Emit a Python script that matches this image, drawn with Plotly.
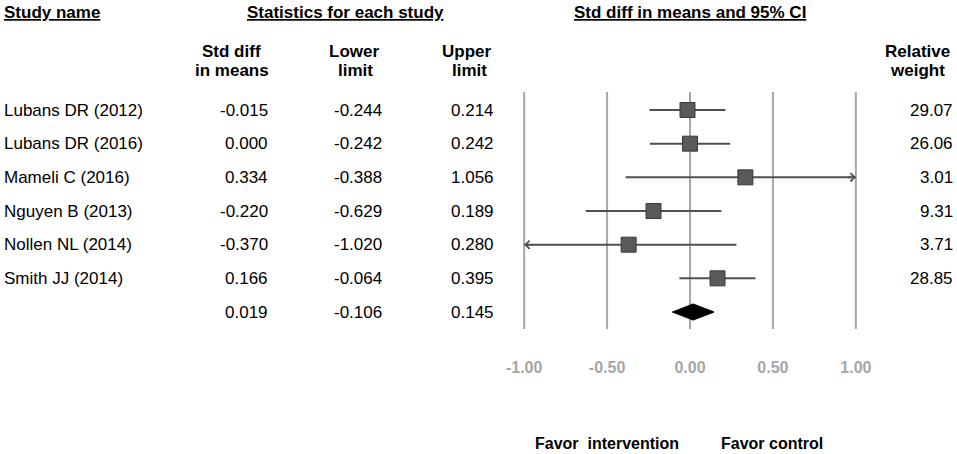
import plotly.graph_objects as go

studies = ["Lubans DR (2012)", "Lubans DR (2016)", "Mameli C (2016)",
           "Nguyen B (2013)", "Nollen NL (2014)", "Smith JJ (2014)"]
smd = [-0.015, 0.000, 0.334, -0.220, -0.370, 0.166]
lower = [-0.244, -0.242, -0.388, -0.629, -1.020, -0.064]
upper = [0.214, 0.242, 1.056, 0.189, 0.280, 0.395]
weights = [29.07, 26.06, 3.01, 9.31, 3.71, 28.85]
summary_smd = 0.019
summary_lower = -0.106
summary_upper = 0.145
tickvals = [-1.0, -0.5, 0.0, 0.5, 1.0]
ticktext = [f"{v:.2f}" for v in tickvals]

W, H = 957, 454
PLOT_H = 345
FONT = "Liberation Sans, Arial, sans-serif"
XMIN, XMAX = -1.0, 1.0

# axis mapping: x=0 at px 690, 165.85 px per unit
PX0, SCALE = 690.0, 165.85
x_range = [-PX0 / SCALE, (W - PX0) / SCALE]
ROW0, ROWH = 110.0, 33.67
y_range = [(PLOT_H - ROW0) / ROWH, -ROW0 / ROWH]

def xp(px):
    return px / W

def yp(py):
    return 1 - py / PLOT_H

def yrow(py):
    return (py - ROW0) / ROWH

fig = go.Figure()

n = len(studies)
rows = list(range(n))
sum_row = n

# CI lines (clipped at axis limits)
cx, cy = [], []
for i in rows:
    cx += [max(lower[i], XMIN), min(upper[i], XMAX), None]
    cy += [i, i, None]
fig.add_trace(go.Scatter(x=cx, y=cy, mode="lines",
                         line=dict(color="#505050", width=2),
                         hoverinfo="skip", showlegend=False))

# point estimates
fig.add_trace(go.Scatter(x=smd, y=rows, mode="markers",
                         marker=dict(symbol="square", size=15, color="#5a5a5a",
                                     line=dict(color="#3a3a3a", width=1)),
                         showlegend=False))

# summary diamond
dh = 0.24
fig.add_trace(go.Scatter(
    x=[summary_lower, summary_smd, summary_upper, summary_smd, summary_lower],
    y=[sum_row, sum_row - dh, sum_row, sum_row + dh, sum_row],
    mode="lines", fill="toself", fillcolor="black",
    line=dict(color="black", width=1), showlegend=False, hoverinfo="skip"))

# grid lines
for v in tickvals:
    fig.add_shape(type="line", xref="x", yref="y", x0=v, x1=v,
                  y0=yrow(92), y1=yrow(329),
                  line=dict(color="#a6a6a6", width=2), layer="below")

ann = []
# arrows for truncated CIs
for i in rows:
    if upper[i] > XMAX:
        ann.append(dict(x=XMAX, y=i, ax=XMAX - 0.06, ay=i, xref="x", yref="y",
                        axref="x", ayref="y", text="", showarrow=True,
                        arrowhead=4, arrowsize=1.0, arrowwidth=1.6,
                        arrowcolor="#505050"))
    if lower[i] < XMIN:
        ann.append(dict(x=XMIN, y=i, ax=XMIN + 0.06, ay=i, xref="x", yref="y",
                        axref="x", ayref="y", text="", showarrow=True,
                        arrowhead=4, arrowsize=1.0, arrowwidth=1.6,
                        arrowcolor="#505050"))

def txt(text, px, py=None, row=None, align="left", bold=False, size=17, color="black"):
    shift = {"left": -3, "right": 3, "center": 0}[align]
    d = dict(x=xp(px), xref="paper", text=f"<b>{text}</b>" if bold else text,
             showarrow=False, xanchor=align, yanchor="middle", xshift=shift,
             font=dict(family=FONT, size=size, color=color))
    if row is not None:
        d.update(y=row, yref="y")
    else:
        d.update(y=yp(py), yref="paper")
    ann.append(d)

# headers
txt("<u>Study name</u>", 5, py=13, bold=True)
txt("<u>Statistics for each study</u>", 345, py=13, align="center", bold=True)
txt("<u>Std diff in means and 95% CI</u>", 690, py=13, align="center", bold=True)
txt("Std diff", 231, py=52, align="center", bold=True)
txt("in means", 232, py=70, align="center", bold=True)
txt("Lower", 354, py=52, align="center", bold=True)
txt("limit", 355, py=70, align="center", bold=True)
txt("Upper", 467, py=52, align="center", bold=True)
txt("limit", 469, py=70, align="center", bold=True)
txt("Relative", 917, py=52, align="center", bold=True)
txt("weight", 917, py=70, align="center", bold=True)

for i in rows:
    txt(studies[i], 5, row=i)
    txt(f"{smd[i]:.3f}", 267, row=i, align="right")
    txt(f"{lower[i]:.3f}", 381, row=i, align="right")
    txt(f"{upper[i]:.3f}", 493, row=i, align="right")
    txt(f"{weights[i]:.2f}", 952, row=i, align="right")
txt(f"{summary_smd:.3f}", 267, row=sum_row, align="right")
txt(f"{summary_lower:.3f}", 381, row=sum_row, align="right")
txt(f"{summary_upper:.3f}", 493, row=sum_row, align="right")

txt("Favor\u00a0 intervention", 607, py=444, align="center", bold=True, size=16)
txt("Favor control", 772, py=444, align="center", bold=True, size=16)

fig.update_layout(
    width=W, height=H,
    margin=dict(l=0, r=0, t=0, b=H - PLOT_H),
    paper_bgcolor="white", plot_bgcolor="white",
    annotations=ann,
    xaxis=dict(range=x_range, tickvals=tickvals, ticktext=ticktext,
               showgrid=False, zeroline=False, showline=False,
               ticks="outside", ticklen=8, tickcolor="rgba(0,0,0,0)",
               tickfont=dict(family=FONT, size=16, color="#a6a6a6", weight="bold"),
               fixedrange=True),
    yaxis=dict(range=y_range, visible=False, fixedrange=True),
    showlegend=False,
)

fig.write_html("out.html", config={"displayModeBar": False},
               post_script="document.body.style.margin='0';document.body.style.overflow='hidden';")
